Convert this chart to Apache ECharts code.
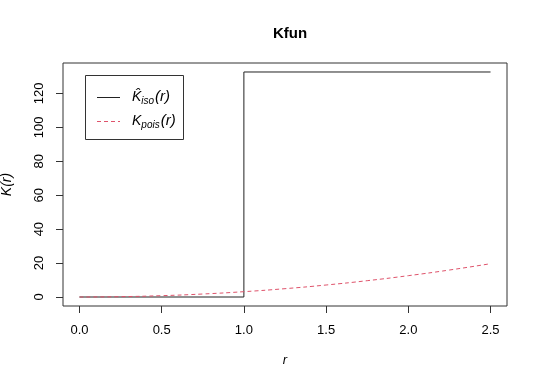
<!DOCTYPE html>
<html><head><meta charset="utf-8">
<script src="https://cdn.jsdelivr.net/npm/echarts@6/dist/echarts.min.js"></script>
<style>html,body{margin:0;padding:0;background:#fff}#c{width:540px;height:386px}</style>
</head><body><div id="c"></div>
<script>
var isoR = [0, 1, 2.5];
var isoK = [0, 132.6, 132.6];
var poisR = [0, 0.25, 0.5, 0.75, 1.0, 1.25, 1.5, 1.75, 2.0, 2.25, 2.5];
var poisK = [0, 0.2, 0.79, 1.77, 3.14, 4.91, 7.07, 9.62, 12.57, 15.9, 19.63];
var xTicks = [0, 0.5, 1, 1.5, 2, 2.5];
var yTicks = [0, 20, 40, 60, 80, 100, 120];

var FONT = '"Liberation Sans", Arial, sans-serif';
var chart = echarts.init(document.getElementById('c'), null, {renderer:'canvas'});
function zip(a,b){return a.map(function(v,i){return [v,b[i]];});}
var rich = {
  k:{fontFamily:FONT, fontSize:14, fontStyle:'italic', color:'#000'},
  s:{fontFamily:FONT, fontSize:10, fontStyle:'italic', color:'#000', padding:[8,1,0,0]},
  p:{fontFamily:FONT, fontSize:15, fontStyle:'italic', color:'#000'}
};
chart.setOption({
  animation:false,
  backgroundColor:'#fff',
  title:{text:'Kfun', left:285, textAlign:'center', top:21, textStyle:{fontFamily:FONT, fontSize:15, fontWeight:'bold', color:'#000'}},
  grid:{left:63, right:33, top:63, bottom:80, show:true, borderColor:'#333', borderWidth:1,
    backgroundColor:'transparent', containLabel:false, outerBoundsMode:'none'},
  xAxis:{type:'value', min:-0.1, max:2.6, name:'r', nameLocation:'middle', nameGap:48,
    nameTextStyle:{fontFamily:FONT, fontSize:13, fontStyle:'italic', color:'#000'},
    axisLine:{show:false, onZero:false}, splitLine:{show:false},
    axisTick:{show:true, length:7, inside:false, lineStyle:{color:'#333'}, customValues:xTicks},
    axisLabel:{fontFamily:FONT, fontSize:13, color:'#000', margin:18, customValues:xTicks,
      formatter:function(v){return v.toFixed(1);}}},
  yAxis:{type:'value', min:-5.3, max:137.9, name:'K(r)', nameLocation:'middle', nameGap:49, nameRotate:90,
    nameTextStyle:{fontFamily:FONT, fontSize:14, fontStyle:'italic', color:'#000'},
    axisLine:{show:false, onZero:false}, splitLine:{show:false},
    axisTick:{show:true, length:7, lineStyle:{color:'#333'}, customValues:yTicks},
    axisLabel:{fontFamily:FONT, fontSize:13, color:'#000', margin:17, rotate:90, align:'center', verticalAlign:'bottom', customValues:yTicks}},
  graphic:[
    {type:'rect', left:85, top:75, shape:{width:98, height:64}, style:{fill:'#fff', stroke:'#333', lineWidth:1}, z:100},
    {type:'line', shape:{x1:97, y1:97.5, x2:120, y2:97.5}, style:{stroke:'#222', lineWidth:1}, z:101},
    {type:'line', shape:{x1:97, y1:121.5, x2:120, y2:121.5}, style:{stroke:'#DF536B', lineWidth:1, lineDash:[4,3]}, z:101},
    {type:'text', x:132, y:97, z:101, style:{text:'{k|K̂}{s|iso}{p|(r)}', rich:rich, verticalAlign:'middle', fontFamily:FONT}},
    {type:'text', x:132, y:121, z:101, style:{text:'{k|K}{s|pois}{p|(r)}', rich:rich, verticalAlign:'middle', fontFamily:FONT}}
  ],
  series:[
    {name:'Kiso', type:'line', step:'end', data:zip(isoR, isoK), symbol:'none',
      lineStyle:{color:'#222', width:1}, itemStyle:{color:'#222'}},
    {name:'Kpois', type:'line', smooth:true, data:zip(poisR, poisK), symbol:'none',
      lineStyle:{color:'#DF536B', width:1, type:[4,3]}, itemStyle:{color:'#DF536B'}}
  ]
});
</script></body></html>
